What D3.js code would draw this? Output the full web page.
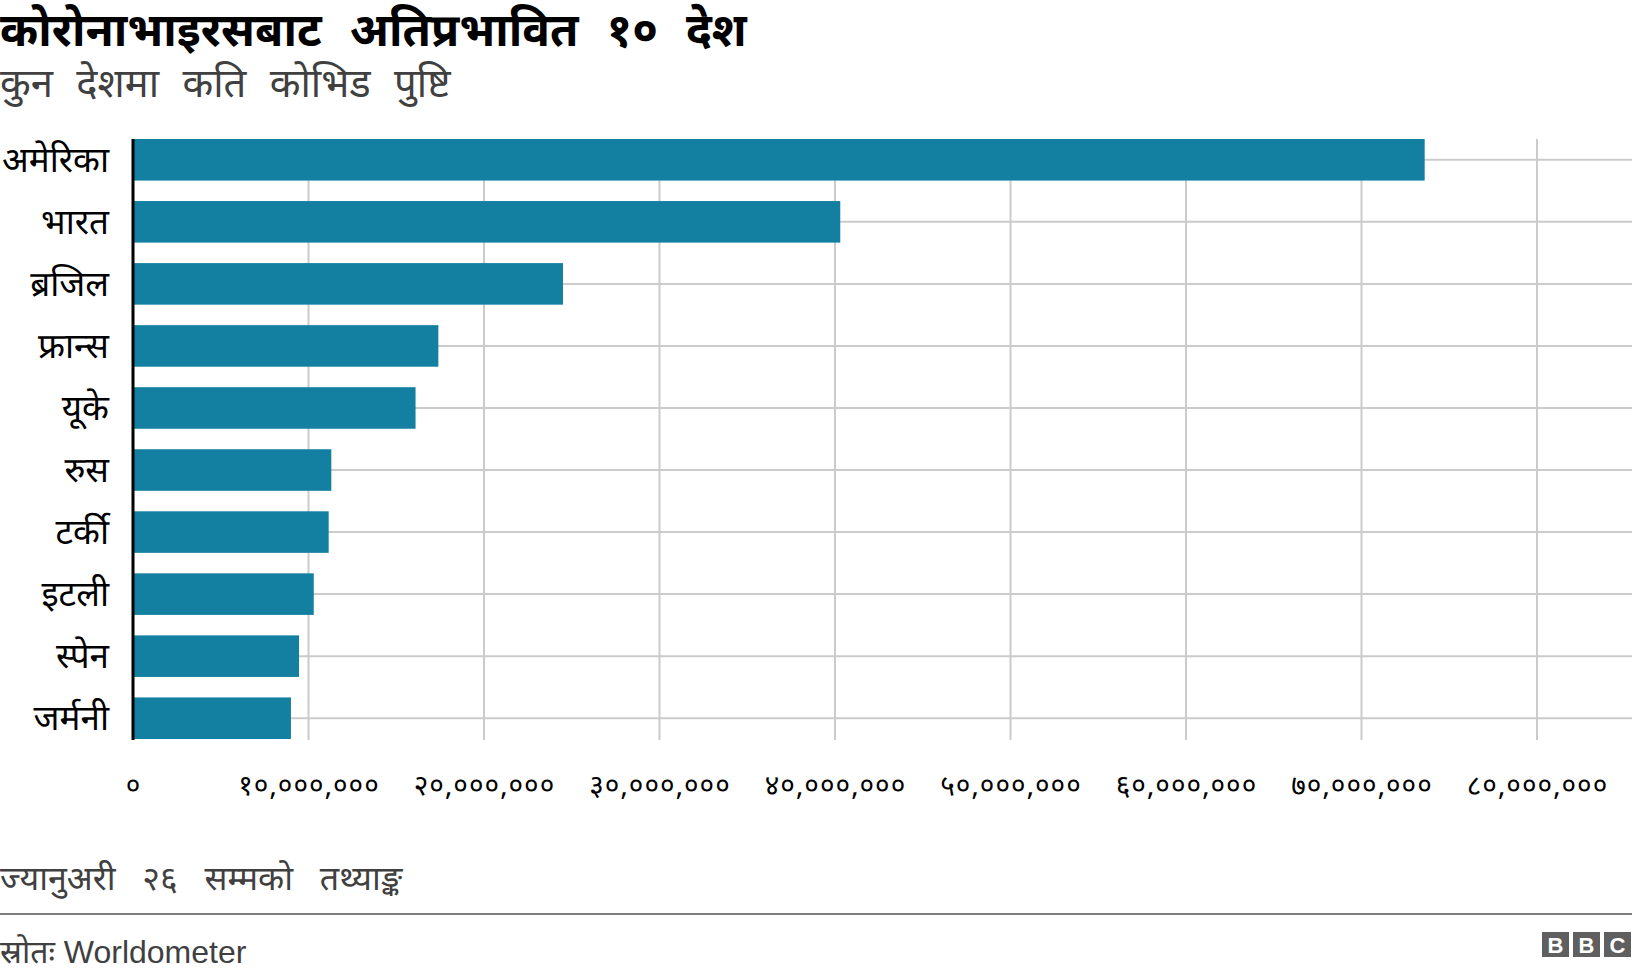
<!DOCTYPE html>
<meta charset="utf-8">
<style>

body {
  margin: 0;
  background: #fff;
}

svg text {
  font-family: "Noto Sans Devanagari", "Noto Sans", sans-serif;
}

.title {
  font-size: 46px;
  font-weight: bold;
  word-spacing: 16px;
  fill: #000;
}

.subtitle {
  font-size: 40px;
  word-spacing: 13px;
  fill: #404040;
}

.country {
  font-size: 35px;
  fill: #000;
}

.tick text {
  font-size: 28px;
  letter-spacing: 1px;
  fill: #000;
}

.grid line {
  stroke: #cbcbcb;
  stroke-width: 2px;
}

.bar {
  fill: #1380a1;
}

.note {
  font-size: 34px;
  word-spacing: 18px;
  fill: #404040;
}

.source {
  font-size: 32px;
  fill: #404040;
  font-family: "Liberation Sans", "Noto Sans Devanagari", sans-serif;
}

</style>
<svg width="1632" height="980"></svg>
<script src="https://cdn.jsdelivr.net/npm/d3@7"></script>
<script>

var countries = ["अमेरिका", "भारत", "ब्रजिल", "फ्रान्स", "यूके", "रुस", "टर्की", "इटली", "स्पेन", "जर्मनी"];
var cases = [73600000, 40300000, 24500000, 17400000, 16100000, 11300000, 11150000, 10300000, 9460000, 9000000];
var ticks = [0, 10000000, 20000000, 30000000, 40000000, 50000000, 60000000, 70000000, 80000000];

var svg = d3.select("svg"),
    width = +svg.attr("width"),
    height = +svg.attr("height");

var x = d3.scaleLinear()
    .domain([0, 80000000])
    .range([133, 1537]);

var y = d3.scaleBand()
    .domain(countries)
    .range([139, 739])
    .paddingInner(0.33);

// devanagari digits for the tick labels
var deva = "०१२३४५६७८९";
function nepali(v) {
  return d3.format(",")(v).replace(/[0-9]/g, function(c) { return deva[+c]; });
}

svg.append("text")
    .attr("class", "title")
    .attr("x", 0)
    .attr("y", 46)
    .text("कोरोनाभाइरसबाट अतिप्रभावित १० देश");

svg.append("text")
    .attr("class", "subtitle")
    .attr("x", 0)
    .attr("y", 97)
    .text("कुन देशमा कति कोभिड पुष्टि");

// gridlines
var grid = svg.append("g").attr("class", "grid");

grid.selectAll(".v")
  .data(ticks.slice(1))
  .enter().append("line")
    .attr("x1", d => x(d))
    .attr("x2", d => x(d))
    .attr("y1", 139)
    .attr("y2", 740);

grid.selectAll(".h")
  .data(countries)
  .enter().append("line")
    .attr("x1", x(0))
    .attr("x2", width)
    .attr("y1", d => y(d) + y.bandwidth() / 2)
    .attr("y2", d => y(d) + y.bandwidth() / 2);

svg.selectAll(".bar")
  .data(countries)
  .enter().append("rect")
    .attr("class", "bar")
    .attr("x", x(0))
    .attr("y", d => y(d))
    .attr("width", (d, i) => x(cases[i]) - x(0))
    .attr("height", y.bandwidth());

// baseline
svg.append("line")
    .attr("x1", x(0))
    .attr("x2", x(0))
    .attr("y1", 139)
    .attr("y2", 740)
    .attr("stroke", "#000")
    .attr("stroke-width", 3);

svg.selectAll(".country")
  .data(countries)
  .enter().append("text")
    .attr("class", "country")
    .attr("x", 109)
    .attr("y", d => y(d) + y.bandwidth() / 2)
    .attr("dy", "0.35em")
    .attr("text-anchor", "end")
    .text(d => d);

var xAxis = d3.axisBottom(x)
    .tickValues(ticks)
    .tickSize(0)
    .tickPadding(0)
    .tickFormat(nepali);

svg.append("g")
    .attr("transform", "translate(0,785)")
    .call(xAxis)
    .call(g => g.select(".domain").remove())
    .selectAll("text")
      .attr("dy", "0.35em");

svg.append("text")
    .attr("class", "note")
    .attr("x", 0)
    .attr("y", 890)
    .text("ज्यानुअरी २६ सम्मको तथ्याङ्क");

svg.append("line")
    .attr("x1", 0)
    .attr("x2", width)
    .attr("y1", 914)
    .attr("y2", 914)
    .attr("stroke", "#7f7f7f")
    .attr("stroke-width", 2);

svg.append("text")
    .attr("class", "source")
    .attr("x", 0)
    .attr("y", 963)
    .text("स्रोतः Worldometer");

// bbc blocks
var logo = svg.append("g").attr("transform", "translate(1542,932)");
logo.selectAll("g")
  .data(["B", "B", "C"])
  .enter().append("g")
    .attr("transform", (d, i) => "translate(" + i * 31 + ",0)")
    .each(function(d) {
      var b = d3.select(this);
      b.append("rect").attr("width", 27).attr("height", 25).attr("fill", "#5f5f5f");
      b.append("text")
          .attr("x", 13.5)
          .attr("y", 21)
          .attr("text-anchor", "middle")
          .attr("fill", "#fff")
          .style("font-family", "Liberation Sans, sans-serif")
          .style("font-weight", "bold")
          .style("font-size", "22px")
          .text(d);
    });

</script>
